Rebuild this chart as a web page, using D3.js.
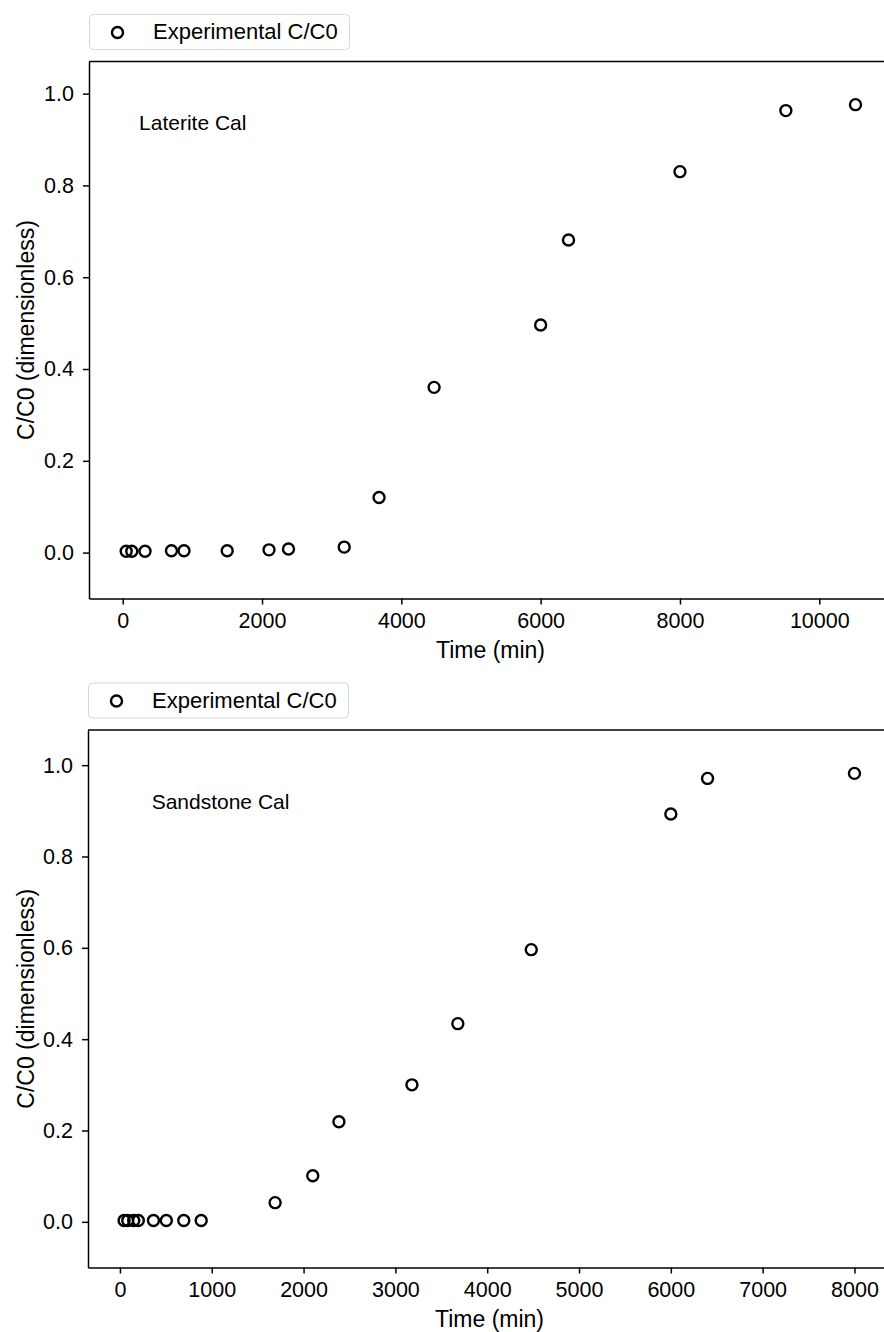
<!DOCTYPE html>
<html>
<head>
<meta charset="utf-8">
<script src="https://cdn.jsdelivr.net/npm/d3@7/dist/d3.min.js"></script>
<style>
  html, body { margin: 0; background: #fff; overflow: hidden; }
  svg { display: block; overflow: hidden; font-family: "Liberation Sans", Arial, sans-serif; }
  .axis path, .axis line { stroke: #000; stroke-width: 1.5; }
  .axis text { fill: #000; font-size: 21.5px; }
</style>
</head>
<body>
<div id="chart"></div>
<script>
// data
var lateriteTime = [50, 130, 320, 700, 880, 1500, 2100, 2380, 3180, 3680, 4470, 6000, 6400, 8000, 9520, 10520];
var lateriteC = [0.003, 0.003, 0.003, 0.004, 0.004, 0.004, 0.006, 0.008, 0.012, 0.12, 0.36, 0.496, 0.681, 0.83, 0.963, 0.976];

var sandstoneTime = [45, 85, 150, 200, 365, 505, 695, 885, 1690, 2100, 2385, 3180, 3680, 4480, 6000, 6400, 8000];
var sandstoneC = [0.003, 0.003, 0.003, 0.003, 0.003, 0.003, 0.003, 0.003, 0.042, 0.101, 0.219, 0.30, 0.434, 0.596, 0.893, 0.971, 0.982];

var lateriteXTicks = [0, 2000, 4000, 6000, 8000, 10000];
var sandstoneXTicks = [0, 1000, 2000, 3000, 4000, 5000, 6000, 7000, 8000];
var yTicks = [0.0, 0.2, 0.4, 0.6, 0.8, 1.0];

var legendLabel = "Experimental C/C0";
var xLabel = "Time (min)";
var yLabel = "C/C0 (dimensionless)";

var panels = [
  {name: "Laterite Cal", time: lateriteTime, c: lateriteC, xTicks: lateriteXTicks,
   xDomain: [-484, 11044], yDomain: [-0.1, 1.07], noteAt: [235, 0.92],
   left: 89, top: 61.5, bottom: 598.5, legendTop: 14},
  {name: "Sandstone Cal", time: sandstoneTime, c: sandstoneC, xTicks: sandstoneXTicks,
   xDomain: [-348, 8398], yDomain: [-0.1, 1.077], noteAt: [345, 0.904],
   left: 88, top: 730, bottom: 1267.5, legendTop: 682.5}
];

var W = 884, H = 1332;
var plotWidth = 803; // right edge falls just outside the picture

var svg = d3.select("#chart").append("svg")
  .attr("width", W)
  .attr("height", H);

svg.append("clipPath").attr("id", "page")
  .append("rect").attr("x", 0).attr("y", 0).attr("width", W).attr("height", H);

var root = svg.append("g").attr("clip-path", "url(#page)");

panels.forEach(function(p) {
  var x = d3.scaleLinear().domain(p.xDomain).range([p.left, p.left + plotWidth]);
  var y = d3.scaleLinear().domain(p.yDomain).range([p.bottom, p.top]);

  var g = root.append("g");

  // points
  g.selectAll(".dot")
    .data(p.time.map(function(t, i) { return {t: t, c: p.c[i]}; }))
    .enter().append("circle")
      .attr("class", "dot")
      .attr("cx", function(d) { return x(d.t); })
      .attr("cy", function(d) { return y(d.c); })
      .attr("r", 5.5)
      .style("fill", "none")
      .style("stroke", "#000")
      .style("stroke-width", 2.4);

  // axes
  g.append("g")
    .attr("class", "axis")
    .attr("transform", "translate(0," + p.bottom + ")")
    .call(d3.axisBottom(x).tickValues(p.xTicks).tickFormat(d3.format("d"))
      .tickSize(6).tickSizeOuter(0).tickPadding(8));

  g.append("g")
    .attr("class", "axis")
    .attr("transform", "translate(" + p.left + ",0)")
    .call(d3.axisLeft(y).tickValues(yTicks).tickFormat(d3.format(".1f"))
      .tickSize(6).tickSizeOuter(0).tickPadding(9));

  // top spine
  g.append("line")
    .attr("x1", p.left).attr("x2", p.left + plotWidth)
    .attr("y1", p.top).attr("y2", p.top)
    .style("stroke", "#000").style("stroke-width", 1.5);

  // axis labels
  g.append("text")
    .attr("x", p.left + plotWidth / 2)
    .attr("y", p.bottom + 59)
    .style("text-anchor", "middle")
    .style("font-size", "23px")
    .text(xLabel);

  g.append("text")
    .attr("transform", "translate(34," + ((p.top + p.bottom) / 2) + ") rotate(-90)")
    .style("text-anchor", "middle")
    .style("font-size", "23px")
    .text(yLabel);

  // annotation
  g.append("text")
    .attr("x", x(p.noteAt[0]))
    .attr("y", y(p.noteAt[1]))
    .style("font-size", "21px")
    .text(p.name);

  // legend
  var lg = g.append("g").attr("transform", "translate(" + p.left + "," + p.legendTop + ")");
  lg.append("rect")
    .attr("x", 0.5).attr("y", 0.5)
    .attr("width", 260).attr("height", 35)
    .attr("rx", 4)
    .style("fill", "#fff")
    .style("stroke", "#d6d6d6")
    .style("stroke-width", 1);
  lg.append("circle")
    .attr("cx", 28.5).attr("cy", 18.5)
    .attr("r", 5.5)
    .style("fill", "none")
    .style("stroke", "#000")
    .style("stroke-width", 2.4);
  lg.append("text")
    .attr("x", 64).attr("y", 25)
    .style("font-size", "22px")
    .text(legendLabel);
});
</script>
</body>
</html>
